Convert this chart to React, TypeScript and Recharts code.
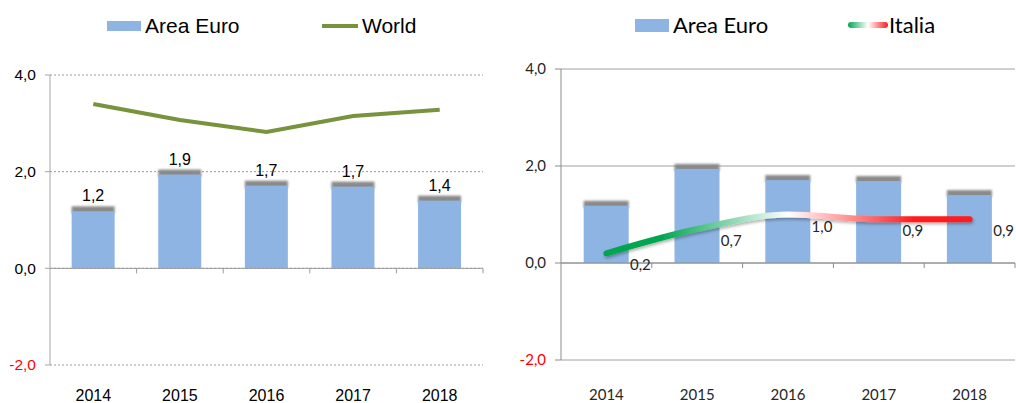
import {
  Bar,
  CartesianGrid,
  ComposedChart,
  LabelList,
  Line,
  ReferenceLine,
  XAxis,
  YAxis,
} from "recharts";

const years = ["2014", "2015", "2016", "2017", "2018"];
const areaEuro = [1.18, 1.94, 1.71, 1.69, 1.4];
const world = [3.4, 3.07, 2.82, 3.15, 3.28];
const italia = [0.2, 0.7, 1.0, 0.9, 0.9];
const yTicks = [-2, 0, 2, 4];

const leftData = years.map((year, i) => ({ year, areaEuro: areaEuro[i], world: world[i] }));
const rightData = years.map((year, i) => ({ year, areaEuro: areaEuro[i], italia: italia[i] }));

const BAR_BLUE = "#8EB4E3";
const WORLD_GREEN = "#77933C";
const ARIAL = "'Liberation Sans', Arial, sans-serif";
const CALIBRI = "Lato, 'Open Sans', sans-serif";

const fmt = (v: number) => Number(v).toFixed(1).replace(".", ",");

function makeYTick(font: string, size: number, color: string) {
  return (props: any) => {
    const { x, y, payload } = props;
    return (
      <text
        x={x}
        y={y}
        dy="0.35em"
        textAnchor="end"
        fontFamily={font}
        fontSize={size}
        fill={payload.value < 0 ? "#FF0000" : color}
      >
        {fmt(payload.value)}
      </text>
    );
  };
}

// zero line with small ticks between categories, like the excel axis
function makeZeroLine(color: string) {
  return (props: any) => {
    const { x1, x2, y1 } = props;
    const step = (x2 - x1) / years.length;
    return (
      <g>
        <line x1={x1} x2={x2} y1={y1} y2={y1} stroke={color} strokeWidth={1} />
        {years.map((_, i) => (
          <line
            key={i}
            x1={x1 + step * (i + 1)}
            x2={x1 + step * (i + 1)}
            y1={y1}
            y2={y1 + 5}
            stroke={color}
            strokeWidth={1}
          />
        ))}
      </g>
    );
  };
}

function makeShadowBar(filterId: string) {
  return (props: any) => {
    const { x, y, width, height } = props;
    return (
      <g>
        <rect x={x} y={y - 5} width={width} height={7} fill="#8a8a8a" filter={`url(#${filterId})`} />
        <rect x={x} y={y} width={width} height={height} fill={BAR_BLUE} />
      </g>
    );
  };
}

const ItaliaLabel = (props: any) => {
  const { x, y, value } = props;
  return (
    <text x={x + 34} y={y + 17} textAnchor="middle" fontFamily={CALIBRI} fontSize={15} fill="#262626">
      {fmt(value)}
    </text>
  );
};

function LeftChart() {
  return (
    <ComposedChart
      width={500}
      height={403}
      data={leftData}
      margin={{ top: 75, right: 17, bottom: 8, left: 0 }}
      barCategoryGap="25%"
    >
      <defs>
        <filter id="barBlurL" x="-20%" y="-100%" width="140%" height="300%">
          <feGaussianBlur stdDeviation={1.1} />
        </filter>
      </defs>
      <CartesianGrid horizontal vertical={false} stroke="#9a9a9a" strokeDasharray="2 2" />
      <XAxis
        dataKey="year"
        axisLine={false}
        tickLine={false}
        tickSize={0}
        tickMargin={25}
        height={30}
        tick={{ fill: "#000", fontSize: 16, fontFamily: ARIAL }}
      />
      <YAxis
        domain={[-2, 4]}
        ticks={yTicks}
        width={50}
        axisLine={{ stroke: "#a6a6a6" }}
        tickLine={{ stroke: "#a6a6a6" }}
        tickSize={5}
        tickMargin={9}
        tick={makeYTick(ARIAL, 15.5, "#000")}
        interval={0}
      />
      <ReferenceLine y={0} shape={makeZeroLine("#9a9a9a")} />
      <Bar dataKey="areaEuro" shape={makeShadowBar("barBlurL")} isAnimationActive={false}>
        <LabelList
          dataKey="areaEuro"
          position="top"
          offset={10}
          formatter={(v: any) => fmt(v)}
          fill="#000"
          fontSize={16}
          fontFamily={ARIAL}
        />
      </Bar>
      <Line
        type="linear"
        dataKey="world"
        stroke={WORLD_GREEN}
        strokeWidth={4}
        dot={false}
        activeDot={false}
        isAnimationActive={false}
      />
    </ComposedChart>
  );
}

function RightChart() {
  return (
    <ComposedChart
      width={516}
      height={403}
      data={rightData}
      margin={{ top: 69, right: 1, bottom: 13, left: 0 }}
      barCategoryGap="25%"
    >
      <defs>
        <filter id="barBlurR" x="-20%" y="-100%" width="140%" height="300%">
          <feGaussianBlur stdDeviation={1.1} />
        </filter>
        <linearGradient id="italiaGrad" x1="0" y1="0" x2="1" y2="0">
          <stop offset="0" stopColor="#00A650" />
          <stop offset="0.15" stopColor="#00A650" />
          <stop offset="0.5" stopColor="#FFFFFF" />
          <stop offset="0.85" stopColor="#FF1A1A" />
          <stop offset="1" stopColor="#FF1A1A" />
        </linearGradient>
        <filter id="lineShadow" x="-5%" y="-60%" width="110%" height="220%">
          <feDropShadow dx={1} dy={2} stdDeviation={1.5} floodColor="#000" floodOpacity={0.3} />
        </filter>
      </defs>
      <CartesianGrid horizontal vertical={false} stroke="#a0a0a0" />
      <XAxis
        dataKey="year"
        axisLine={false}
        tickLine={false}
        tickSize={0}
        tickMargin={29}
        height={30}
        tick={{ fill: "#262626", fontSize: 15, fontFamily: CALIBRI }}
      />
      <YAxis
        domain={[-2, 4]}
        ticks={yTicks}
        width={61}
        axisLine={{ stroke: "#8c8c8c" }}
        tickLine={{ stroke: "#8c8c8c" }}
        tickSize={6}
        tickMargin={9}
        tick={makeYTick(CALIBRI, 15, "#262626")}
        interval={0}
      />
      <ReferenceLine y={0} shape={makeZeroLine("#8c8c8c")} />
      <Bar dataKey="areaEuro" shape={makeShadowBar("barBlurR")} isAnimationActive={false} />
      <Line
        type="monotone"
        dataKey="italia"
        stroke="url(#italiaGrad)"
        strokeWidth={6}
        strokeLinecap="round"
        filter="url(#lineShadow)"
        dot={false}
        activeDot={false}
        isAnimationActive={false}
      >
        <LabelList dataKey="italia" content={ItaliaLabel} />
      </Line>
    </ComposedChart>
  );
}

const abs = (left: number, top: number, extra: any = {}) => ({ position: "absolute" as const, left, top, ...extra });

function Legends() {
  const arialText = { fontFamily: ARIAL, fontSize: 21, color: "#000", lineHeight: "24px" };
  const calText = { fontFamily: CALIBRI, fontSize: 22, color: "#000", lineHeight: "26px" };
  return (
    <>
      <div style={abs(107, 21, { width: 34, height: 10, background: BAR_BLUE })} />
      <div style={abs(145, 14, arialText)}>Area Euro</div>
      <div style={abs(322, 24, { width: 36, height: 4, background: WORLD_GREEN })} />
      <div style={abs(362, 14, arialText)}>World</div>

      <div style={abs(635, 19, { width: 34, height: 13, background: BAR_BLUE })} />
      <div style={abs(673, 12, calText)}>Area Euro</div>
      <div
        style={abs(848, 22, {
          width: 40,
          height: 6,
          borderRadius: 3,
          background: "linear-gradient(to right, #00A650 0%, #ffffff 50%, #FF1A1A 100%)",
        })}
      />
      <div style={abs(889, 12, calText)}>Italia</div>
    </>
  );
}

export default function App() {
  return (
    <div style={{ position: "absolute", left: 0, top: 0, width: 1016, height: 403, background: "#fff", overflow: "hidden" }}>
      <div style={abs(0, 0)}>
        <LeftChart />
      </div>
      <div style={abs(500, 0)}>
        <RightChart />
      </div>
      <Legends />
    </div>
  );
}
